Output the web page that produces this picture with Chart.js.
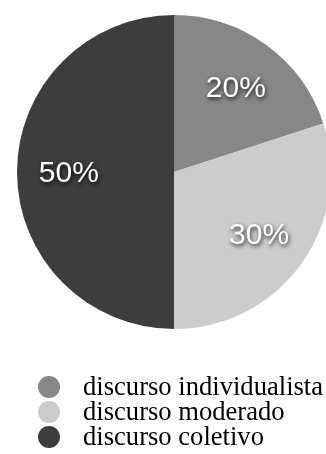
<!DOCTYPE html>
<html>
<head>
<meta charset="utf-8">
<script src="https://cdn.jsdelivr.net/npm/chart.js@4/dist/chart.umd.min.js"></script>
<style>
  html, body { margin: 0; padding: 0; width: 326px; height: 454px; overflow: hidden; background: #ffffff; }
  #wrap { position: relative; width: 326px; height: 454px; overflow: hidden; }
  #c { position: absolute; left: 0; top: 0; }
  #legend { position: absolute; left: 37px; top: 374px; font-family: "Liberation Serif", "Times New Roman", serif; font-size: 26.6px; color: #000; }
  .item { position: relative; height: 25px; line-height: 25px; white-space: nowrap; }
  .dot { position: absolute; left: 1px; top: 2px; width: 22px; height: 22px; border-radius: 50%; }
  .txt { position: absolute; left: 46px; top: 0px; }
</style>
</head>
<body>
<div id="wrap">
  <canvas id="c" width="348" height="454"></canvas>
  <div id="legend"></div>
</div>
<script>
const categories = ["discurso individualista", "discurso moderado", "discurso coletivo"];
const values = [20, 30, 50];
const sliceLabels = ["20%", "30%", "50%"];
const colors = ["#878787", "#cccccc", "#3d3d3d"];

const labelPlugin = {
  id: 'sliceLabels',
  afterDatasetsDraw(chart) {
    const ctx = chart.ctx;
    const meta = chart.getDatasetMeta(0);
    ctx.save();
    ctx.font = '30px "Liberation Sans", Arial, sans-serif';
    ctx.textAlign = 'center';
    ctx.textBaseline = 'middle';
    ctx.fillStyle = '#ffffff';
    ctx.shadowColor = 'rgba(0,0,0,0.85)';
    ctx.shadowBlur = 4;
    ctx.shadowOffsetX = 1;
    ctx.shadowOffsetY = 2;
    meta.data.forEach((arc, i) => {
      const p = arc.getProps(['x', 'y', 'startAngle', 'endAngle', 'outerRadius'], true);
      const mid = (p.startAngle + p.endAngle) / 2;
      const r = p.outerRadius * 0.67;
      ctx.fillText(sliceLabels[i], p.x + Math.cos(mid) * r, p.y + Math.sin(mid) * r + 1.5);
    });
    ctx.restore();
  }
};

new Chart(document.getElementById('c'), {
  type: 'pie',
  data: {
    labels: categories,
    datasets: [{ data: values, backgroundColor: colors, borderWidth: 0 }]
  },
  options: {
    responsive: false,
    animation: false,
    layout: { padding: { top: 15, bottom: 125, left: 17, right: 17 } },
    plugins: { legend: { display: false }, tooltip: { enabled: false } }
  },
  plugins: [labelPlugin]
});

const leg = document.getElementById('legend');
categories.forEach((name, i) => {
  const item = document.createElement('div');
  item.className = 'item';
  const dot = document.createElement('div');
  dot.className = 'dot';
  dot.style.background = colors[i];
  const t = document.createElement('span');
  t.className = 'txt';
  t.textContent = name;
  item.appendChild(dot);
  item.appendChild(t);
  leg.appendChild(item);
});
</script>
</body>
</html>
